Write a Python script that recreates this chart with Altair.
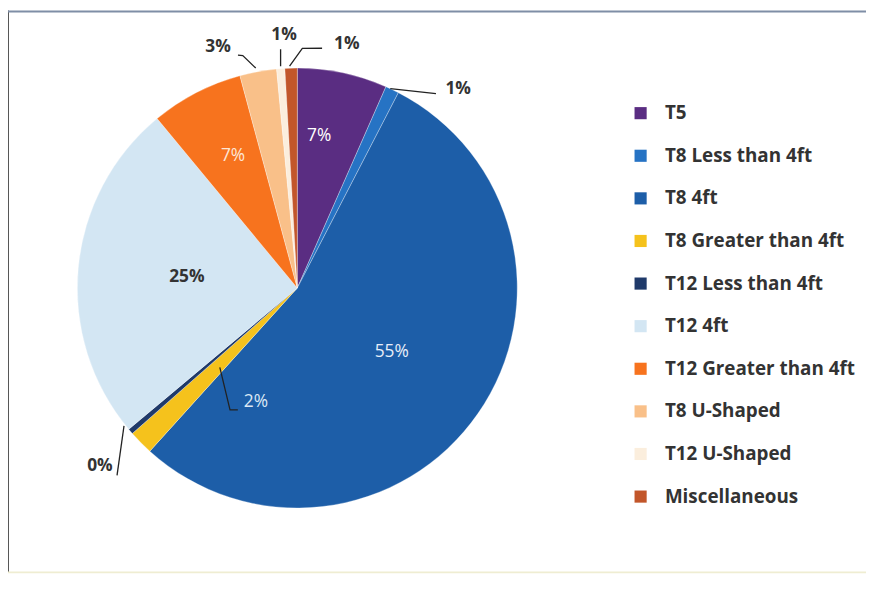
import math
import altair as alt
import pandas as pd

# ---- data ----
categories = ["T5", "T8 Less than 4ft", "T8 4ft", "T8 Greater than 4ft", "T12 Less than 4ft",
              "T12 4ft", "T12 Greater than 4ft", "T8  U-Shaped", "T12 U-Shaped", "Miscellaneous"]
shares = [6.6, 1.0, 54.1, 1.8, 0.4, 25.1, 6.8, 2.7, 0.6, 0.9]
labels = ["7%", "1%", "55%", "2%", "0%", "25%", "7%", "3%", "1%", "1%"]

# ---- styles ----
colors = ["#5a2d82", "#2673c4", "#1d5ea8", "#f5c21c", "#1f3a6a",
          "#d3e6f3", "#f7731e", "#f9c089", "#fbeedd", "#c2562a"]
label_colors = ["#ffffff", "#333333", "#e8eef8", "#dbe8f5", "#333333",
                "#333333", "#fde6d6", "#333333", "#333333", "#333333"]
label_weight = ["normal", "bold", "normal", "normal", "bold", "bold", "normal", "bold", "bold", "bold"]
# label placement (degrees clockwise from top, pixel radius)
label_angle = [8.2, 39.0, 124.0, 200.0, 228.0, 275.6, 334.0, 341.8, 357.0, 11.5]
label_radius = [155, 258, 115, 122, 268, 112, 148, 256, 256, 251]
# leader lines: list of (angle deg, radius px) points per label index
leaders = {
    1: [(25.0, 222), (35.5, 241)],
    3: [(224.3, 112), (208.9, 140.5), (206.0, 136.9)],
    4: [(231.5, 223.5), (223.9, 262.4)],
    7: [(349.3, 226), (346.8, 241), (345.7, 242.5)],
    8: [(355.7, 224.6), (356.0, 241.6)],
    9: [(358.0, 224), (1.2, 242), (5.9, 243.3)],
}

CX, CY, R = 292, 280, 222
W, H = 866, 567
FONT = "Open Sans"

df = pd.DataFrame({
    "category": categories,
    "share": shares,
    "order": list(range(len(categories))),
})

lab = pd.DataFrame({
    "label": labels,
    "theta": [math.radians(a) for a in label_angle],
    "r": label_radius,
    "color": label_colors,
    "bold": label_weight,
})

rows = []
for k, pts in leaders.items():
    for j, (a, r) in enumerate(pts):
        rows.append({"id": k, "seq": j,
                     "x": CX + r * math.sin(math.radians(a)),
                     "y": CY - r * math.cos(math.radians(a))})
lead = pd.DataFrame(rows)

pie = alt.Chart(df).mark_arc(outerRadius=R, stroke="#ffffff", strokeWidth=0.3).encode(
    theta=alt.Theta("share:Q", stack=True),
    order=alt.Order("order:Q"),
    x=alt.value(CX), y=alt.value(CY),
    color=alt.Color("category:N",
                    scale=alt.Scale(domain=categories, range=colors),
                    sort=categories,
                    legend=alt.Legend(title=None, orient="none", legendX=629, legendY=94,
                                      symbolType="square", symbolSize=150, symbolStrokeWidth=0,
                                      labelFont=FONT, labelFontSize=19, labelFontWeight="bold",
                                      labelColor="#333333", rowPadding=23, labelOffset=15,
                                      padding=0, labelLimit=300)),
)

lines = alt.Chart(lead).mark_line(color="#222222", strokeWidth=1.3).encode(
    x=alt.X("x:Q", scale=None), y=alt.Y("y:Q", scale=None),
    detail="id:N", order="seq:Q",
)


def text_layer(weight):
    return alt.Chart(lab[lab["bold"] == weight]).mark_text(
        font=FONT, fontSize=17.5, fontWeight=weight, align="center", baseline="middle").encode(
        theta=alt.Theta("theta:Q", scale=None, stack=None),
        radius=alt.Radius("r:Q", scale=None),
        x=alt.value(CX), y=alt.value(CY),
        text="label:N",
        color=alt.Color("color:N", scale=None),
    )


one = pd.DataFrame({"k": [0]})
left_rule = alt.Chart(one).mark_rule(color="#555555", strokeWidth=2).encode(
    x=alt.value(0), y=alt.value(0), y2=alt.value(H))
top_rule = alt.Chart(one).mark_rule(color="#7f8ea6", strokeWidth=2).encode(
    x=alt.value(0), x2=alt.value(W), y=alt.value(1))
bottom_rule = alt.Chart(one).mark_rule(color="#efedd2", strokeWidth=2).encode(
    x=alt.value(0), x2=alt.value(W), y=alt.value(H))

chart = alt.layer(pie, lines, text_layer("normal"), text_layer("bold"),
                  left_rule, top_rule, bottom_rule).properties(
    width=W, height=H, autosize=alt.AutoSizeParams(type="none"), padding=0,
    background="#ffffff",
).configure_view(strokeWidth=0)

chart.save("out.html", embed_options={"renderer": "svg", "actions": False})
